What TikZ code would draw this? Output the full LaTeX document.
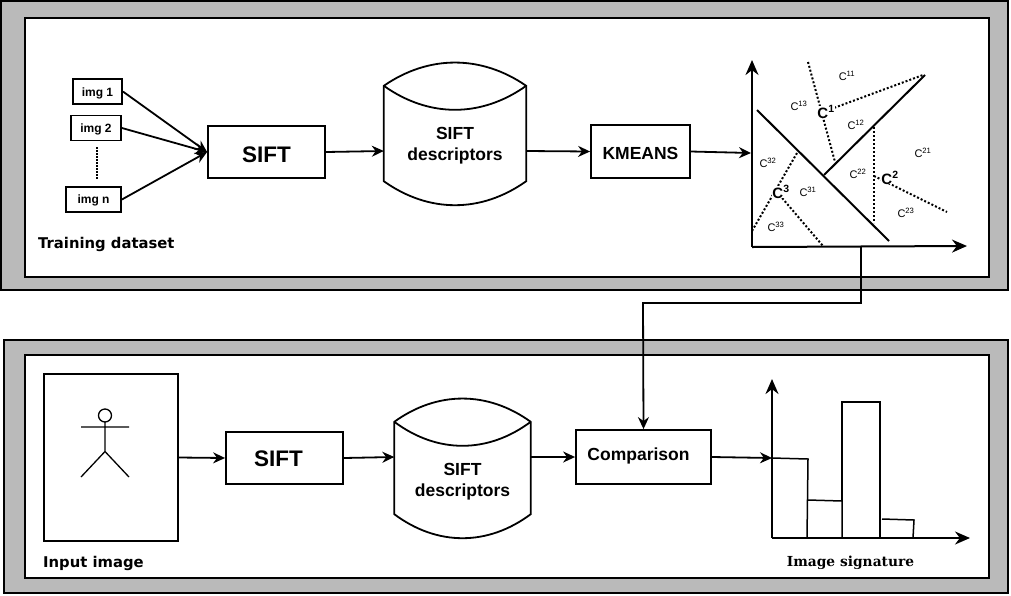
\documentclass[tikz,border=0pt]{standalone}
\usepackage{fontspec}
\setmainfont{Liberation Sans}
\newfontfamily\labelfont{DejaVu Sans}
\newfontfamily\sigfont{DejaVu Serif}
\usetikzlibrary{arrows.meta}
\definecolor{panelgray}{gray}{0.73}
\tikzset{
	panel/.style={draw=black, line width=1.5pt, fill=panelgray},
	inner panel/.style={draw=black, line width=1.5pt, fill=white},
	box/.style={draw=black, line width=1.8pt, fill=white, inner sep=0pt, font=\bfseries},
	imgbox/.style={box, minimum height=25pt, font=\fontsize{12}{12}\selectfont\bfseries},
	siftbox/.style={box, minimum width=117pt, font=\fontsize{22.5}{22.5}\selectfont\bfseries},
	wordbox/.style={box, font=\fontsize{17.5}{17.5}\selectfont\bfseries},
	drumbox/.style={inner sep=0pt, align=center, font=\fontsize{17.5}{21}\selectfont\bfseries},
	link/.style={line width=1.8pt, -{Stealth[length=12pt,width=11pt]}},
	axis/.style={line width=2pt, -{Stealth[length=15pt,width=13pt]}},
	solid line/.style={line width=2pt},
	dot line/.style={line width=2pt, dash pattern=on 2pt off 2pt},
	cell/.style={inner sep=0pt, font=\fontsize{11}{11}\selectfont},
	centre/.style={inner sep=0pt, fill=white, font=\fontsize{15}{15}\selectfont\bfseries},
	caption/.style={inner sep=0pt, anchor=west, font=\fontsize{14.8}{14.8}\labelfont\bfseries},
}
\newcommand{\drawdrum}[2]{%
	\draw[line width=1.8pt, fill=white] ([yshift=24pt]#1.south west) -- (#1.north west)
		.. controls +(#2,-31) and +(-#2,-31) .. (#1.north east)
		-- ([yshift=24pt]#1.south east)
		.. controls +(-#2,32) and +(#2,32) .. cycle;
	\draw[line width=1.8pt] (#1.north west)
		.. controls +(#2,32) and +(-#2,32) .. (#1.north east);
}
\newcommand{\lowered}[2]{\raisebox{-#1pt}[\height][\depth]{#2}}
\begin{document}
\begin{tikzpicture}[x=1pt, y=-1pt]
	\useasboundingbox (0,0) rectangle (1011,595);
	%top panel
	\draw[panel] (1,1) rectangle (1008,290);
	\draw[inner panel] (25,18) rectangle (989,277);
	%bottom panel
	\draw[panel] (4,340) rectangle (1008,593);
	\draw[inner panel] (25,355) rectangle (989,578);

	%training row
	\node (imgone) at (97.5,91.5) [imgbox, minimum width=49pt]{\lowered{1.5}{img 1}};
	\node (imgtwo) at (96,128) [imgbox, minimum width=50pt]{\lowered{1}{img 2}};
	\node (imgn) at (93.5,199.5) [imgbox, minimum width=55pt]{\lowered{1}{img n}};
	\coordinate (gaptop) at (97,147);
	\coordinate (gapbottom) at (97,180);
	\draw[line width=1.5pt, dash pattern=on 1.5pt off 1.5pt] (gaptop)--(gapbottom);
	\node (siftone) at (266.5,152) [siftbox, minimum height=52pt]{\lowered{3}{SIFT}};
	\node (kmeans) at (640.5,151.5) [wordbox, minimum width=99pt, minimum height=53pt]{\lowered{1.5}{KMEANS}};
	\node (descone) at (455,145.5) [minimum width=142pt, minimum height=119pt, inner sep=0pt]{};
	\drawdrum{descone}{45}
	\node (desconetext) at (descone) [drumbox]{SIFT\\descriptors};
	\node (training) at (38,244) [caption]{Training dataset};
	\draw[link] (imgone.east)--(siftone.west);
	\draw[link] (imgtwo.east)--(siftone.west);
	\draw[link] (imgn.east)--(siftone.west);
	\draw[link] (siftone.east)--([yshift=-5.5pt]descone.west);
	\draw[link] ([yshift=-5.5pt]descone.east)--(kmeans.west);

	%cluster plot
	\coordinate (origin) at (752,247);
	\coordinate (yend) at (752,60);
	\coordinate (xend) at (967,246);
	\coordinate (plotin) at (751,153);
	\draw[link] (kmeans.east)--(plotin);
	\draw[axis] (origin)--(yend);
	\draw[axis] (origin)--(xend);
	\coordinate (cutstart) at (757,110);
	\coordinate (cutend) at (889,241);
	\coordinate (forkstart) at (824,175);
	\coordinate (forkend) at (925,75);
	\draw[solid line] (cutstart)--(cutend);
	\draw[solid line] (forkstart)--(forkend);
	\draw[dot line] (808,62)--(835,162);
	\draw[dot line] (823,112)--(923,75);
	\draw[dot line] (874,127)--(874,223);
	\draw[dot line] (874,176)--(947,212);
	\draw[dot line] (797,153)--(752,231);
	\draw[dot line] (777,192)--(823,246);
	\node (cone) at (826,112) [centre]{C\textsuperscript{1}};
	\node (ctwo) at (890,178) [centre]{C\textsuperscript{2}};
	\node (cthree) at (781,192) [centre]{C\textsuperscript{3}};
	\foreach \n/\x/\y in {11/847/76, 13/799/106, 12/856/125, 21/923/153, 22/858/174, 23/906/213, 32/768/163, 31/808/192, 33/776/227}{
		\node (cell\n) at (\x,\y) [cell]{C\textsuperscript{\n}};
	}

	%test row
	\node (input) at (111,457.5) [draw=black, line width=1.8pt, inner sep=0pt, minimum width=134pt, minimum height=167pt]{};
	\coordinate (neck) at (105,422);
	\coordinate (hip) at (105,451.5);
	\draw[line width=1.3pt] (105,415.5) circle (6.5pt);
	\draw[line width=1.3pt] (neck)--(hip) (81,427)--(129,427) (81,477)--(hip)--(129,477);
	\node (sifttwo) at (284.5,458) [siftbox, minimum height=52pt]{\lowered{1}{SIFT\hspace{12pt}}};
	\node (desctwo) at (462.5,480) [minimum width=136pt, minimum height=116pt, inner sep=0pt]{};
	\drawdrum{desctwo}{43}
	\node (desctwotext) at ([yshift=-1.5pt]desctwo.center) [drumbox]{SIFT\\descriptors};
	\node (compare) at (643.5,457) [wordbox, minimum width=135pt, minimum height=54pt]{\lowered{-1}{Comparison\hspace{10pt}}};
	\node (inputlabel) at (43,563) [caption]{Input image};
	\coordinate (histin) at (772,458);
	\coordinate (plotout) at (861,246);
	\draw[link] (input.east)--(sifttwo.west);
	\draw[link] (sifttwo.east)--([yshift=23pt]desctwo.west);
	\draw[link] ([yshift=23pt]desctwo.east)--(compare.west);
	\draw[link] (compare.east)--(histin);
	\draw[link] (plotout)--(861,303)--(643,303)--(compare.north);

	%histogram
	\coordinate (horigin) at (772,538);
	\draw[axis] (horigin)--(772,379);
	\draw[axis] (horigin)--(970,538);
	\draw[line width=1.5pt] (772,458)--(808,459)--(807,538);
	\draw[line width=1.5pt] (808,500)--(842,501)--(842,538);
	\draw[line width=1.5pt] (842,501)--(842,402)--(880,402)--(880,538);
	\draw[line width=1.5pt] (882,519)--(914,520)--(913,538);
	\node (signature) at (850.5,562.5) [inner sep=0pt, font=\fontsize{13.8}{13.8}\sigfont\bfseries]{Image signature};
\end{tikzpicture}
\end{document}
